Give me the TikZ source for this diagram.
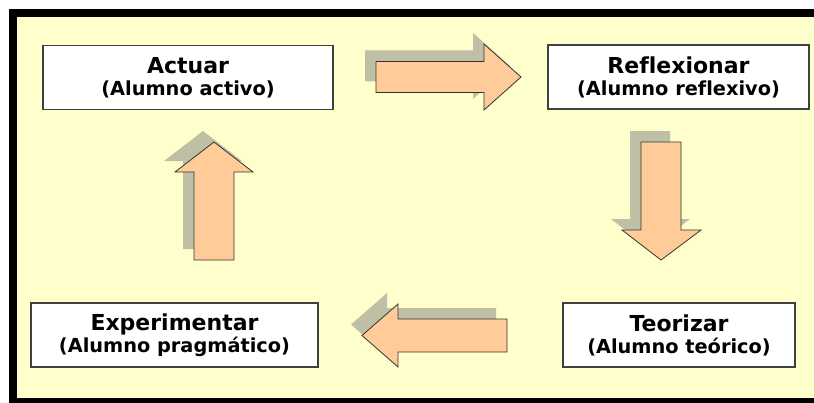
\documentclass[tikz,border=0pt]{standalone}
\usepackage{fontspec}
\setmainfont{DejaVu Sans}[Ligatures=NoCommon]
\usetikzlibrary{shadows}
\definecolor{fondo}{RGB}{255,255,204}
\definecolor{salmon}{RGB}{255,204,153}
\definecolor{sombra}{RGB}{191,191,166}
\definecolor{borde}{RGB}{64,64,64}
\newcommand{\titulo}{\fontsize{16.5}{16.5}\selectfont}
\tikzset{
    caja/.style={draw=borde, line width=1.2pt, fill=white, align=center, inner sep=0pt,
        minimum height=48pt, font=\fontsize{14.5}{16.5}\selectfont\bfseries},
    flecha/.style={draw=black!80, line width=0.6pt, fill=salmon,
        drop shadow={shadow xshift=-8.25pt, shadow yshift=8.25pt, fill=sombra, opacity=1}}
}
\begin{document}
\begin{tikzpicture}[x=0.75pt, y=-0.75pt]
        \useasboundingbox (0,0) rectangle (814,403);
        \clip (0,0) rectangle (814,403);
        % marco
        \filldraw[line width=6pt, fill=fondo] (13,13.5) rectangle (830,402);
        % cajas
        \node[caja, minimum width=217.5pt] (actuar) at (188,77.5) {{\titulo Actuar}\\(Alumno activo)};
        \node[caja, minimum width=195.75pt] (reflexionar) at (678.5,77) {{\titulo Reflexionar}\\(Alumno reflexivo)};
        \node[caja, minimum width=174pt] (teorizar) at (679,335) {{\titulo Teorizar}\\(Alumno teórico)};
        \node[caja, minimum width=215.25pt] (experimentar) at (174.5,335) {{\titulo Experimentar}\\(Alumno pragmático)};
        % flechas
        \draw[flecha] (376,61.5) -- (484,61.5) -- (484,44) -- (521,77) -- (484,110) -- (484,92.5) -- (376,92.5) -- cycle;
        \draw[flecha] (641,142) -- (681,142) -- (681,230) -- (701,230) -- (661,260) -- (622,230) -- (641,230) -- cycle;
        \draw[flecha] (507,319) -- (507,352) -- (398,352) -- (398,367) -- (362,335.5) -- (398,304) -- (398,319) -- cycle;
        \draw[flecha] (194,260) -- (234,260) -- (234,172) -- (253,172) -- (214,142) -- (175,172) -- (194,172) -- cycle;
    \end{tikzpicture}
\end{document}
